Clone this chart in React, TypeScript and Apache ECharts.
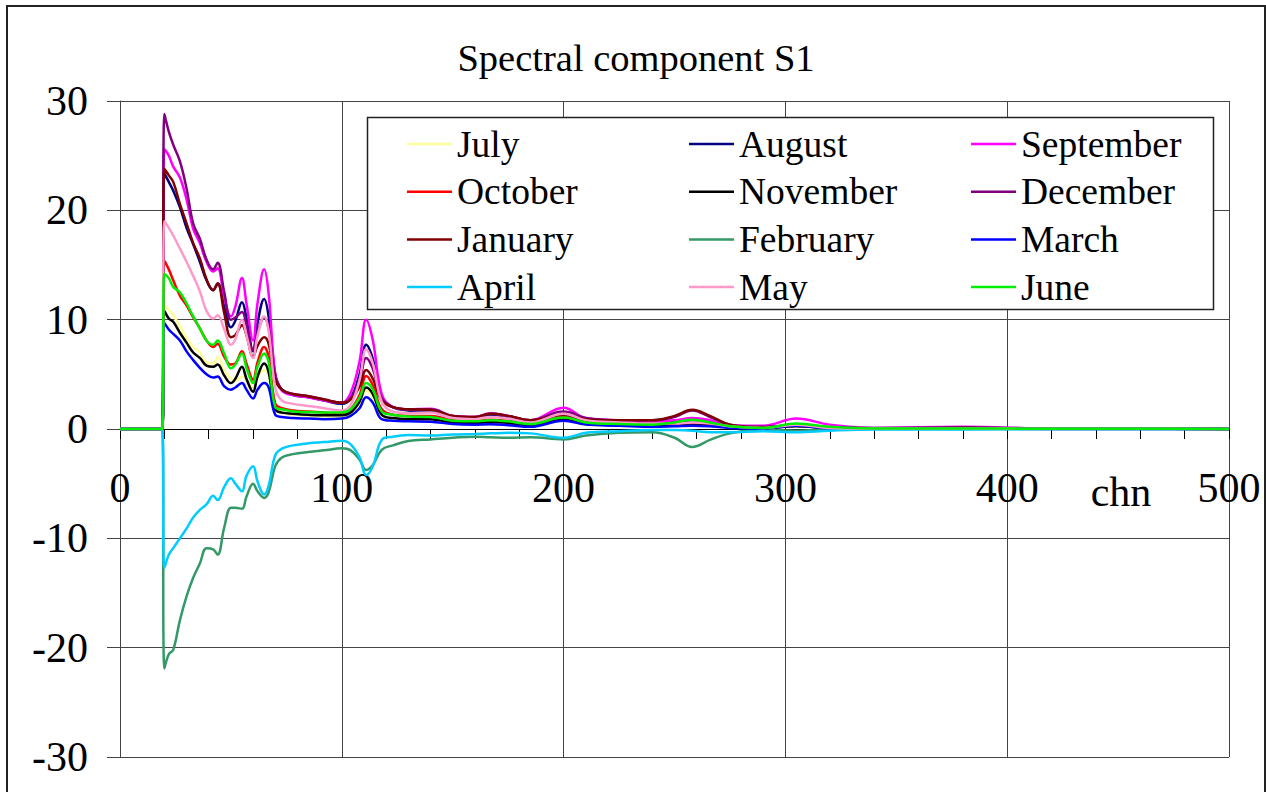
import React, { useEffect, useRef } from "react";
import * as echarts from "echarts";

const FONT = '"Liberation Serif", "Times New Roman", Times, serif';

// channel positions (x values)
const channels = [
  0, 19, 20, 22, 24,
  27, 30, 33, 36, 39,
  42, 44, 47, 50, 52,
  55, 57, 60, 62, 65,
  67, 70, 73, 78, 85,
  92, 100, 104, 108, 111,
  114, 118, 123, 130, 140,
  150, 160, 167, 175, 185,
  200, 210, 225, 240, 250,
  258, 266, 275, 290, 305,
  320, 340, 380, 420, 460,
  500,
];

const july = [
  0, 0, 11.3, 10.9, 10.4,
  9.4, 8.3, 7.5, 7.0, 6.1,
  6.0, 6.6, 5.4, 4.6, 4.4,
  4.8, 4.5, 3.8, 4.7, 5.4,
  4.9, 2.0, 1.5, 1.3, 1.2,
  1.15, 1.1, 1.4, 2.3, 3.5,
  2.9, 1.2, 0.9, 0.8, 0.8,
  0.55, 0.5, 0.6, 0.5, 0.35,
  0.8, 0.4, 0.35, 0.4, 0.7,
  0.95, 0.8, 0.3, 0.1, 0.3,
  0.1, 0.05, 0.05, 0.02, 0.02,
  0,
];
const august = [
  0, 0, 23.4, 22.6, 21.8,
  20.3, 18.4, 16.9, 15.3, 13.6,
  12.7, 13.3, 11.2, 9.3, 9.9,
  11.6, 10.2, 7.1, 9.7, 11.9,
  10.3, 5.0, 3.6, 3.1, 2.9,
  2.6, 2.3, 2.8, 5.0, 7.7,
  6.4, 3.0, 2.0, 1.7, 1.6,
  1.1, 1.0, 1.2, 1.0, 0.7,
  1.3, 0.8, 0.6, 0.6, 0.7,
  0.8, 0.6, 0.3, 0.15, 0.3,
  0.1, 0.05, 0.1, 0.03, 0.02,
  0,
];
const september = [
  0, 0, 25.6, 25.0, 24.0,
  23.0, 21.0, 18.3, 17.0, 15.3,
  14.4, 14.7, 12.0, 10.3, 11.2,
  13.8, 11.5, 8.1, 11.5, 14.6,
  12.4, 5.0, 3.5, 3.1, 2.9,
  2.6, 2.4, 3.3, 6.2, 10.0,
  8.1, 3.2, 2.0, 1.8, 1.85,
  1.2, 1.1, 1.45, 1.2, 0.8,
  1.95, 1.0, 0.8, 0.7, 0.8,
  1.0, 0.8, 0.35, 0.3, 0.95,
  0.4, 0.1, 0.2, 0.05, 0.05,
  0,
];
const october = [
  0, 0, 15.4, 14.6, 13.6,
  12.2, 11.3, 10.2, 9.2, 8.1,
  7.5, 7.8, 6.6, 5.9, 6.0,
  7.1, 6.0, 4.5, 6.1, 7.5,
  6.6, 2.3, 1.9, 1.7, 1.6,
  1.5, 1.4, 1.8, 3.1, 4.85,
  4.0, 1.8, 1.3, 1.2, 1.2,
  0.8, 0.7, 0.85, 0.75, 0.5,
  1.1, 0.6, 0.5, 0.4, 0.45,
  0.5, 0.4, 0.2, 0.1, 0.35,
  0.1, 0.05, 0.05, 0.02, 0.02,
  0,
];
const november = [
  0, 0, 10.8, 10.1, 9.8,
  8.8, 7.9, 7.0, 6.5, 5.8,
  5.7, 5.9, 4.9, 4.2, 4.6,
  5.7, 4.6, 3.4, 4.8, 6.0,
  5.2, 1.8, 1.5, 1.4, 1.3,
  1.25, 1.25, 1.5, 2.5, 3.8,
  3.2, 1.3, 1.0, 0.9, 0.9,
  0.6, 0.55, 0.65, 0.55, 0.35,
  0.85, 0.45, 0.35, 0.3, 0.3,
  0.35, 0.3, 0.15, 0.05, 0.25,
  0.05, 0.02, 0.05, 0.02, 0.02,
  0,
];
const december = [
  0, 0, 28.8, 27.2, 26.0,
  24.5, 22.0, 18.8, 17.4, 15.5,
  14.6, 15.2, 12.5, 10.0, 10.2,
  10.7, 9.5, 7.2, 8.8, 10.2,
  9.2, 4.8, 3.6, 3.2, 3.0,
  2.7, 2.4, 2.8, 4.4, 6.5,
  5.5, 2.8, 2.0, 1.8, 1.8,
  1.2, 1.1, 1.4, 1.2, 0.8,
  1.6, 1.0, 0.8, 0.8, 1.1,
  1.7, 1.1, 0.4, 0.2, 0.35,
  0.15, 0.1, 0.15, 0.05, 0.05,
  0,
];
const january = [
  0, 0, 23.8, 23.2, 22.6,
  20.6, 18.8, 17.0, 15.6, 13.7,
  12.7, 13.3, 10.6, 8.4, 8.6,
  9.5, 8.6, 6.6, 7.6, 8.4,
  7.8, 4.5, 3.6, 3.2, 3.0,
  2.7, 2.4, 2.7, 3.9, 5.4,
  4.6, 2.6, 2.0, 1.8, 1.75,
  1.2, 1.1, 1.4, 1.2, 0.8,
  1.3, 0.9, 0.8, 0.8, 1.2,
  1.75, 1.2, 0.4, 0.15, 0.3,
  0.1, 0.05, 0.1, 0.03, 0.02,
  0,
];
const february = [
  0, 0, -21.9, -20.6, -20.2,
  -17.5, -15.3, -13.6, -12.3, -10.9,
  -11.0, -11.5, -9.0, -7.2, -7.2,
  -7.3, -6.2, -5.0, -5.7, -6.3,
  -5.8, -3.4, -2.6, -2.3, -2.1,
  -1.95, -1.77, -1.95, -2.8, -3.75,
  -3.3, -1.9, -1.5, -1.1, -0.95,
  -0.8, -0.7, -0.75, -0.8, -0.75,
  -0.95, -0.6, -0.35, -0.3, -0.8,
  -1.65, -1.0, -0.4, -0.1, -0.15,
  -0.05, 0, 0, 0, 0,
  0,
];
const march = [
  0, 0, 9.7, 9.1, 8.7,
  8.1, 7.1, 6.3, 5.6, 5.0,
  4.7, 4.8, 3.9, 3.6, 3.8,
  4.2, 3.6, 2.8, 3.6, 4.2,
  3.8, 1.3, 1.1, 1.0, 0.95,
  0.9, 0.95, 1.2, 1.9, 2.9,
  2.4, 0.9, 0.75, 0.7, 0.67,
  0.45, 0.4, 0.43, 0.35, 0.2,
  0.76, 0.4, 0.3, 0.2, 0.25,
  0.3, 0.25, 0.1, 0.05, 0.3,
  0.05, 0.02, 0.03, 0.01, 0.01,
  0,
];
const april = [
  0, 0, -12.7, -11.5, -10.9,
  -10.0, -9.1, -8.1, -7.4, -6.9,
  -6.1, -6.5, -5.3, -4.5, -5.0,
  -5.7, -4.3, -3.4, -4.8, -6.0,
  -5.2, -2.4, -1.8, -1.5, -1.3,
  -1.2, -1.07, -1.4, -2.6, -4.2,
  -3.4, -1.0, -0.7, -0.55, -0.6,
  -0.5, -0.45, -0.4, -0.35, -0.4,
  -0.8, -0.35, -0.2, -0.1, -0.1,
  -0.15, -0.3, -0.3, -0.2, -0.3,
  -0.15, -0.05, -0.05, 0, 0,
  0,
];
const may = [
  0, 0, 19.0, 18.4, 17.7,
  16.5, 15.3, 14.0, 12.6, 10.8,
  10.1, 10.4, 9.1, 7.7, 8.2,
  10.0, 8.6, 6.5, 8.5, 10.3,
  9.0, 3.8, 2.6, 2.3, 2.1,
  1.9, 1.7, 2.2, 4.5, 7.3,
  6.0, 2.5, 1.6, 1.45, 1.5,
  1.0, 0.9, 1.1, 0.95, 0.6,
  1.4, 0.8, 0.6, 0.5, 0.5,
  0.6, 0.5, 0.25, 0.1, 0.4,
  0.1, 0.05, 0.05, 0.02, 0.02,
  0,
];
const june = [
  0, 0, 14.2, 13.8, 13.0,
  12.5, 11.5, 10.3, 9.2, 8.1,
  7.7, 8.1, 6.9, 5.55, 5.9,
  6.9, 5.6, 4.2, 5.7, 6.9,
  6.1, 2.0, 1.8, 1.6, 1.55,
  1.5, 1.5, 1.8, 2.85, 4.2,
  3.6, 1.6, 1.3, 1.15, 1.1,
  0.75, 0.7, 0.8, 0.7, 0.45,
  1.05, 0.6, 0.45, 0.4, 0.6,
  0.85, 0.6, 0.25, 0.1, 0.5,
  0.2, 0.05, 0.05, 0.02, 0.02,
  0,
];

const seriesNames = [
  "July", "August", "September",
  "October", "November", "December",
  "January", "February", "March",
  "April", "May", "June",
];
const seriesValues = [
  july, august, september,
  october, november, december,
  january, february, march,
  april, may, june,
];
const seriesColors = [
  "#FFFF99", "#000080", "#FF00FF",
  "#FF0000", "#000000", "#800080",
  "#800000", "#339966", "#0000FF",
  "#00CCFF", "#FF99CC", "#00EE00",
];

const xTicks = { min: 0, max: 500, interval: 100 };
const yTicks = { min: -30, max: 30, interval: 10 };

export default function App() {
  const ref = useRef<HTMLDivElement>(null);

  useEffect(() => {
    if (!ref.current) return;
    const chart = echarts.init(ref.current, undefined, { renderer: "svg" });

    const gridTop = 101;
    const gridBottom = 757;
    // pixel position of y = 0 inside the grid, so the x axis can sit on it
    const zeroOffset =
      ((0 - yTicks.min) / (yTicks.max - yTicks.min)) * (gridBottom - gridTop);

    const legendCols = [0, 1, 2].map((c) => ({
      orient: "vertical",
      left: [402, 684, 966][c],
      top: 119,
      icon: "rect",
      itemWidth: 45,
      itemHeight: 2.5,
      itemGap: 7.7,
      selectedMode: false,
      data: seriesNames.filter((_, i) => i % 3 === c),
      textStyle: {
        fontFamily: FONT,
        fontSize: 37.5,
        color: "#000",
        lineHeight: 40,
      },
      z: 10,
    }));

    const option: any = {
      animation: false,
      color: seriesColors,
      grid: {
        left: 120,
        top: gridTop,
        right: 37,
        bottom: 792 - gridBottom,
        containLabel: false,
        outerBoundsMode: "none",
      },
      legend: legendCols,
      xAxis: {
        type: "value",
        min: xTicks.min,
        max: xTicks.max,
        interval: xTicks.interval,
        position: "bottom",
        offset: -zeroOffset,
        axisLine: { show: true, onZero: false, lineStyle: { color: "#000", width: 1 } },
        axisTick: { show: true, length: 10, inside: false, lineStyle: { color: "#000" } },
        minorTick: { show: true, splitNumber: 5, length: 10, lineStyle: { color: "#000" } },
        axisLabel: {
          fontFamily: FONT,
          fontSize: 42,
          color: "#000",
          margin: 38,
        },
        splitLine: { show: true, lineStyle: { color: "#444", width: 1 } },
      },
      yAxis: {
        type: "value",
        min: yTicks.min,
        max: yTicks.max,
        interval: yTicks.interval,
        axisLine: { show: true, onZero: false, lineStyle: { color: "#444", width: 1 } },
        axisTick: { show: true, length: 13, inside: false, lineStyle: { color: "#444" } },
        axisLabel: {
          fontFamily: FONT,
          fontSize: 42,
          color: "#000",
          margin: 32,
        },
        splitLine: { show: true, lineStyle: { color: "#444", width: 1 } },
      },
      graphic: [
        {
          type: "rect",
          shape: { x: 7, y: 6, width: 1258, height: 820 },
          style: { fill: "none", stroke: "#222", lineWidth: 2 },
          silent: true,
          z: 0,
        },
        {
          type: "rect",
          shape: { x: 367.5, y: 117.5, width: 846, height: 192 },
          style: { fill: "#fff", stroke: "#222", lineWidth: 1.5 },
          silent: true,
          z: 5,
        },
        {
          type: "text",
          x: 636,
          y: 58,
          style: {
            text: "Spectral component S1",
            fontFamily: FONT,
            fontSize: 38.5,
            fill: "#000",
            align: "center",
            verticalAlign: "middle",
          },
          silent: true,
        },
        {
          type: "text",
          x: 1121,
          y: 492,
          style: {
            text: "chn",
            fontFamily: FONT,
            fontSize: 42,
            fill: "#000",
            align: "center",
            verticalAlign: "middle",
          },
          silent: true,
        },
      ],
      series: seriesNames.map((name, i) => ({
        name,
        type: "line",
        showSymbol: false,
        smooth: 0.4,
        lineStyle: { width: 2.5, color: seriesColors[i] },
        itemStyle: { color: seriesColors[i] },
        data: channels.map((c, k) => [c, seriesValues[i][k]]),
        z: 2,
      })),
    };

    chart.setOption(option);
    return () => chart.dispose();
  }, []);

  return (
    <div
      ref={ref}
      style={{ position: "fixed", left: 0, top: 0, width: 1266, height: 792, background: "#fff" }}
    />
  );
}
